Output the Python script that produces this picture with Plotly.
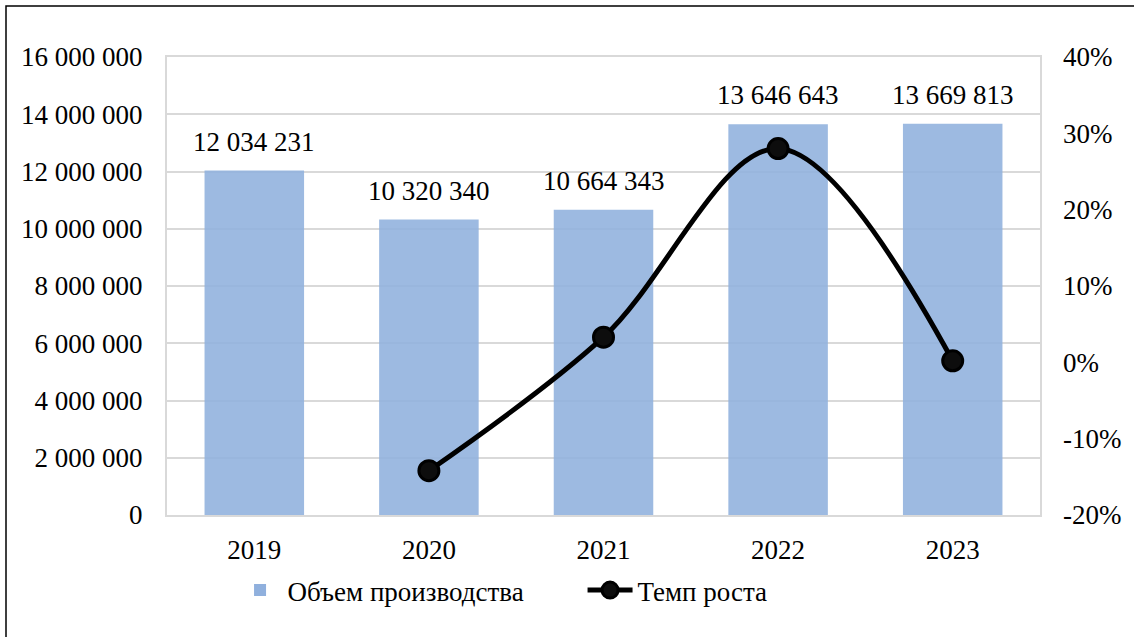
import plotly.graph_objects as go

years = ["2019", "2020", "2021", "2022", "2023"]
volume = [12034231, 10320340, 10664343, 13646643, 13669813]
growth_years = ["2020", "2021", "2022", "2023"]
growth = [-0.142, 0.033, 0.280, 0.002]

left_ticks = [0, 2000000, 4000000, 6000000, 8000000, 10000000, 12000000, 14000000, 16000000]
right_ticks = [-0.2, -0.1, 0.0, 0.1, 0.2, 0.3, 0.4]

def fmt_space(v):
    return f"{v:,}".replace(",", " ")

FONT = "Liberation Serif, Times New Roman, serif"
FS = 27

fig = go.Figure()
fig.add_trace(go.Bar(
    x=years, y=volume, name="Объем производства",
    marker=dict(color="rgb(144,176,221)", opacity=0.88, line=dict(width=0)),
    width=0.57,
))
fig.add_trace(go.Scatter(
    x=growth_years, y=growth, name="Темп роста", yaxis="y2",
    mode="lines+markers",
    line=dict(color="black", width=5, shape="spline", smoothing=1.0),
    marker=dict(size=20, color="#0d0d0d", line=dict(color="black", width=3)),
    cliponaxis=False,
))

annotations = [dict(x=i, y=v, xref="x", yref="y", text=fmt_space(v), showarrow=False,
                    yanchor="bottom", yshift=12, font=dict(family=FONT, size=FS, color="black"))
               for i, v in enumerate(volume)]

fig.update_layout(
    width=1134, height=637,
    margin=dict(l=167, r=94, t=57, b=122),
    paper_bgcolor="white", plot_bgcolor="white",
    font=dict(family=FONT, size=FS, color="black"),
    showlegend=True,
    legend=dict(orientation="h", x=0.476, xanchor="center", y=-0.165, yanchor="middle",
                font=dict(family=FONT, size=FS), entrywidth=290, itemwidth=45,
                traceorder="normal"),
    annotations=annotations,
    xaxis=dict(type="category", categoryorder="array", categoryarray=years,
               range=[-0.5, len(years) - 0.5],
               showgrid=False, showline=True, linecolor="#d9d9d9",
               linewidth=2, mirror=True, ticks="", tickfont=dict(family=FONT, size=FS),
               ticklabelstandoff=10),
    yaxis=dict(range=[0, 16000000], tickvals=left_ticks,
               ticktext=[fmt_space(v) for v in left_ticks],
               showgrid=True, gridcolor="#d9d9d9", gridwidth=2,
               showline=True, linecolor="#d9d9d9", linewidth=2, mirror=True,
               zeroline=False, ticks="", ticklabelstandoff=17,
               tickfont=dict(family=FONT, size=FS)),
    yaxis2=dict(range=[-0.2, 0.4], tickvals=right_ticks,
                ticktext=[f"{round(v*100)}%" for v in right_ticks],
                overlaying="y", side="right", showgrid=False, zeroline=False,
                showline=False, ticks="", ticklabelstandoff=22,
                tickfont=dict(family=FONT, size=FS)),
    shapes=[dict(type="rect", xref="paper", yref="paper",
                 x0=(6 - 167) / 873, x1=1.3, y0=-0.5, y1=(515 - 6) / 458,
                 line=dict(color="black", width=1.5), layer="below")],
)

fig.write_html("out.html", config={"displayModeBar": False},
               post_script="document.body.style.margin='0';")
